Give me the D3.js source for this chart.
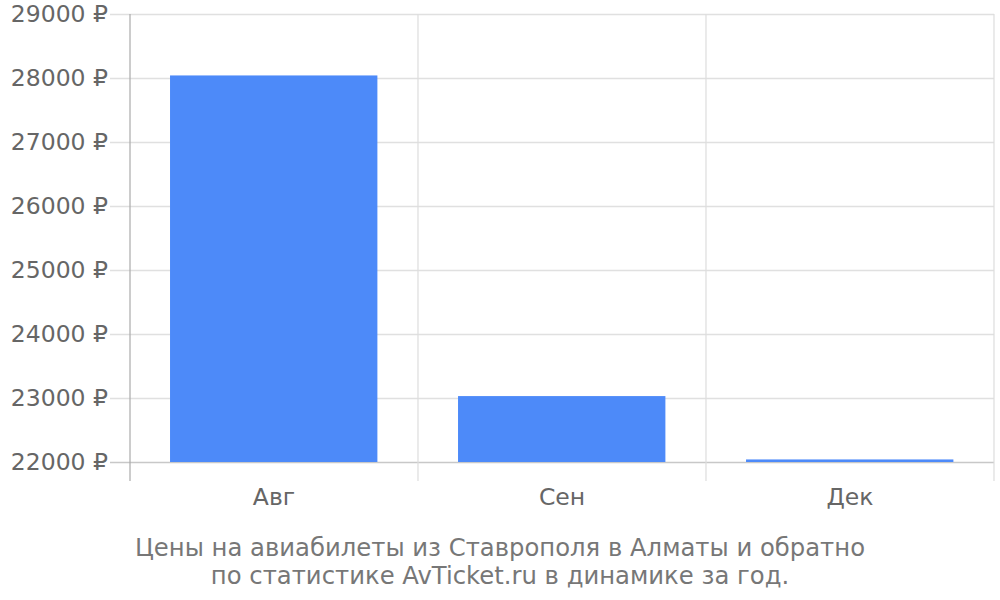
<!DOCTYPE html>
<html><head><meta charset="utf-8">
<script src="https://cdn.jsdelivr.net/npm/d3@7"></script>
<style>body{margin:0;background:#fff}svg{display:block}text{font-family:"DejaVu Sans",sans-serif}</style>
</head><body><svg id="c" width="1000" height="600"></svg>
<script>
const categories = ["Авг", "Сен", "Дек"];
const values = [28040, 23030, 22040];
const yTicks = [22000, 23000, 24000, 25000, 26000, 27000, 28000, 29000];
const titleLines = ["Цены на авиабилеты из Ставрополя в Алматы и обратно", "по статистике AvTicket.ru в динамике за год."];

(function () {
const svg = d3.select("#c");
const mLeft = 130, mRight = 994, mTop = 14, mBottom = 462;
const x = d3.scaleBand().domain(categories).range([mLeft, mRight]).paddingInner(0).paddingOuter(0);
const y = d3.scaleLinear().domain([22000, 29000]).range([mBottom, mTop]);

// horizontal gridlines
svg.append("g").selectAll("line").data(yTicks).join("line")
  .attr("x1", mLeft - 20).attr("x2", mRight)
  .attr("y1", d => y(d) + 0.5).attr("y2", d => y(d) + 0.5)
  .attr("stroke", d => d === 22000 ? "#c8c8c8" : "#e0e0e0").attr("stroke-width", 1.5);

// vertical gridlines
const vx = categories.map(c => x(c)).concat([mRight]);
svg.append("g").selectAll("line").data(vx).join("line")
  .attr("x1", d => d).attr("x2", d => d)
  .attr("y1", mTop).attr("y2", 481)
  .attr("stroke", (d, i) => i === 0 ? "#aaaaaa" : "#dddddd").attr("stroke-width", 1.2);

// bars
const bw = x.bandwidth();
svg.append("g").selectAll("rect").data(values).join("rect")
  .attr("x", (d, i) => x(categories[i]) + bw * 0.139)
  .attr("width", bw * 0.72)
  .attr("y", d => y(d))
  .attr("height", d => y(22000) - y(d))
  .attr("fill", "#4d8af9");

// y labels
svg.append("g").selectAll("text").data(yTicks).join("text")
  .attr("x", 108).attr("y", d => y(d))
  .attr("dy", "0.35em").attr("text-anchor", "end")
  .attr("font-size", 23.5).attr("fill", "#666")
  .text(d => d + " ₽");

// x labels
svg.append("g").selectAll("text").data(categories).join("text")
  .attr("x", d => x(d) + bw / 2).attr("y", 505)
  .attr("text-anchor", "middle")
  .attr("font-size", 23.5).attr("fill", "#666")
  .text(d => d);

// title
svg.append("g").selectAll("text").data(titleLines).join("text")
  .attr("x", 500).attr("y", (d, i) => 556 + i * 28)
  .attr("text-anchor", "middle")
  .attr("font-size", 24.3).attr("fill", "#777")
  .text(d => d);
})();
</script></body></html>
